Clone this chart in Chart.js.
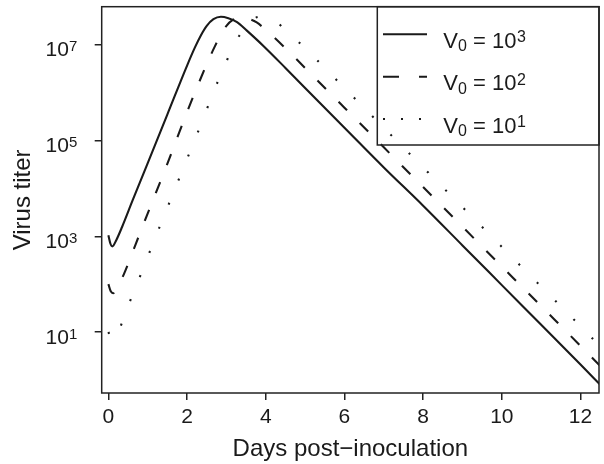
<!DOCTYPE html>
<html><head><meta charset="utf-8">
<script src="https://cdn.jsdelivr.net/npm/chart.js@4.4.1/dist/chart.umd.min.js"></script>
<style>html,body{margin:0;padding:0;background:#fff;}#wrap{width:604px;height:464px;position:relative;}</style>
</head><body><div id="wrap"><canvas id="c" width="604" height="464"></canvas></div>
<script>
// ---- data (log10 of virus titer) ----
const xTicks = [0, 2, 4, 6, 8, 10, 12];
const yTickExponents = [1, 3, 5, 7];
const legendExponents = [3, 2, 1];

const daysV3 = [0, 0.05, 0.1, 0.2, 0.35, 0.62, 1.0, 1.5, 2.0, 2.2, 2.35, 2.5, 2.67, 2.86, 3.05, 3.27, 3.52, 3.94, 4.5, 5, 6, 7, 8, 9, 10, 11, 12, 12.5];
const log10TiterV3 = [3.02, 2.85, 2.79, 2.92, 3.2, 3.76, 4.53, 5.55, 6.57, 6.95, 7.2, 7.4, 7.54, 7.59, 7.56, 7.48, 7.3, 6.98, 6.52, 6.1, 5.27, 4.44, 3.64, 2.81, 1.98, 1.15, 0.32, -0.1];

const daysV2 = [0, 0.06, 0.12, 0.22, 0.4, 0.7, 1.0, 1.5, 2.0, 2.5, 2.7, 2.85, 3.0, 3.17, 3.36, 3.55, 3.77, 4.02, 4.44, 5, 6, 7, 8, 9, 10, 11, 12, 12.5];
const log10TiterV2 = [2.0, 1.85, 1.81, 1.92, 2.22, 2.85, 3.48, 4.52, 5.6, 6.6, 6.96, 7.2, 7.4, 7.53, 7.58, 7.55, 7.47, 7.3, 6.98, 6.52, 5.69, 4.86, 4.03, 3.2, 2.37, 1.54, 0.71, 0.29];

const daysV1 = [0, 0.06, 0.12, 0.22, 0.28, 0.51, 0.76, 0.99, 1.23, 1.47, 2.0, 2.44, 2.67, 2.93, 3.18, 3.35, 3.52, 3.67, 3.86, 4.05, 4.27, 4.52, 4.94, 5.5, 6, 7, 8, 9, 10, 11, 12, 12.5];
const log10TiterV1 = [1.0, 0.88, 0.84, 0.92, 1.05, 1.56, 2.07, 2.55, 3.05, 3.54, 4.62, 5.52, 6.02, 6.51, 7.0, 7.22, 7.42, 7.54, 7.59, 7.56, 7.48, 7.3, 6.98, 6.52, 6.1, 5.27, 4.44, 3.61, 2.78, 1.95, 1.12, 0.7];

const xLabel = 'Days post\u2212inoculation';
const yLabel = 'Virus titer';

// ---- build ----
const toPoints = (d, l) => d.map((t, i) => ({x: t, y: Math.pow(10, l[i])}));
const FONT = '"Liberation Sans", Arial, Helvetica, sans-serif';
const INK = '#1a1a1a';

const dashStyles = [[], [12, 18], [2, 24]];
const legendDash = [[], [16, 20], [2, 16]];

const decor = {
  id: 'decor',
  afterDraw(chart) {
    const ctx = chart.ctx, ca = chart.chartArea, y = chart.scales.y;
    ctx.save();
    // plot box
    ctx.strokeStyle = '#222'; ctx.lineWidth = 1.5; ctx.setLineDash([]);
    ctx.strokeRect(ca.left, ca.top, ca.right - ca.left, ca.bottom - ca.top);
    // y tick labels 10^n
    ctx.fillStyle = INK; ctx.textAlign = 'right'; ctx.textBaseline = 'alphabetic';
    yTickExponents.forEach(e => {
      const py = y.getPixelForValue(Math.pow(10, e));
      ctx.font = '15px ' + FONT;
      const s = String(e), ws = ctx.measureText(s).width;
      ctx.fillText(s, 77.3, py + 6.5);
      ctx.font = '21px ' + FONT;
      ctx.fillText('10', 77.3 - ws, py + 11.5);
    });
    // legend
    const lx = 377.3, lt = ca.top, lr = ca.right, lb = 145;
    ctx.strokeStyle = '#222'; ctx.lineWidth = 1.5;
    ctx.strokeRect(lx, lt, lr - lx, lb - lt);
    const rows = [34.3, 76.7, 119];
    legendExponents.forEach((e, i) => {
      const ry = rows[i];
      ctx.strokeStyle = INK; ctx.lineWidth = 2.1; ctx.lineCap = 'butt';
      ctx.setLineDash(legendDash[i]);
      ctx.beginPath(); ctx.moveTo(383, ry); ctx.lineTo(427, ry); ctx.stroke();
      ctx.setLineDash([]);
      ctx.textAlign = 'left'; ctx.fillStyle = INK;
      let x = 443.3;
      ctx.font = '22px ' + FONT; ctx.fillText('V', x, ry + 13.5); x += ctx.measureText('V').width;
      ctx.font = '16px ' + FONT; ctx.fillText('0', x, ry + 17); x += ctx.measureText('0').width;
      ctx.font = '22px ' + FONT; ctx.fillText(' = 10', x, ry + 13.5); x += ctx.measureText(' = 10').width;
      ctx.font = '16px ' + FONT; ctx.fillText(String(e), x + 0.5, ry + 8);
    });
    ctx.restore();
  }
};

new Chart(document.getElementById('c'), {
  type: 'line',
  data: {
    datasets: [
      {label: 'V0 = 10^3', data: toPoints(daysV3, log10TiterV3)},
      {label: 'V0 = 10^2', data: toPoints(daysV2, log10TiterV2)},
      {label: 'V0 = 10^1', data: toPoints(daysV1, log10TiterV1)}
    ].map((d, i) => Object.assign(d, {
      borderColor: INK, borderWidth: 2.1, borderDash: dashStyles[i], borderCapStyle: 'butt',
      pointRadius: 0, fill: false, cubicInterpolationMode: 'monotone'
    }))
  },
  options: {
    responsive: false, animation: false, devicePixelRatio: 1,
    layout: {padding: {left: 0, top: 6.7, right: 5, bottom: 0}},
    plugins: {legend: {display: false}, tooltip: {enabled: false}},
    scales: {
      x: {
        type: 'linear', min: -0.17, max: 12.47,
        afterBuildTicks: s => { s.ticks = xTicks.map(v => ({value: v})); },
        afterFit: s => { s.height = 71; },
        grid: {drawOnChartArea: false, drawTicks: true, tickLength: 7, tickColor: '#222', lineWidth: 1.5},
        border: {display: false},
        ticks: {font: {family: FONT, size: 21}, color: INK, padding: 5, maxRotation: 0},
        title: {display: true, text: xLabel, font: {family: FONT, size: 24}, color: INK, padding: {top: 0, bottom: 0}}
      },
      y: {
        type: 'logarithmic', min: Math.pow(10, -0.275), max: Math.pow(10, 7.8),
        afterBuildTicks: s => { s.ticks = yTickExponents.map(e => ({value: Math.pow(10, e)})); },
        afterFit: s => { s.width = 101.7; },
        grid: {drawOnChartArea: false, drawTicks: true, tickLength: 7, tickColor: '#222', lineWidth: 1.5},
        border: {display: false},
        ticks: {display: false},
        title: {display: true, text: yLabel, font: {family: FONT, size: 24}, color: INK, padding: {top: 9, bottom: 0}}
      }
    }
  },
  plugins: [decor]
});
</script></body></html>
